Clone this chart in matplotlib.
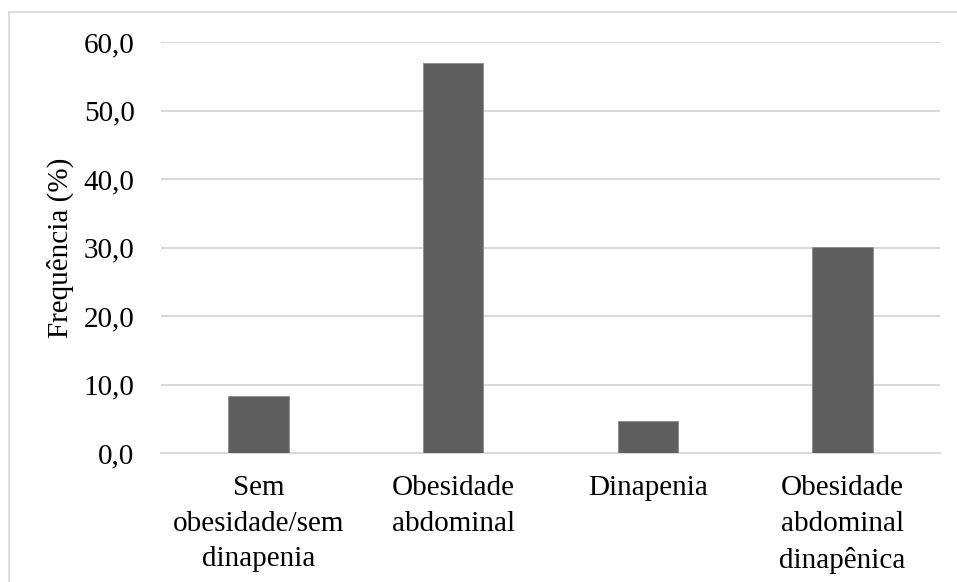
import matplotlib
matplotlib.use("Agg")
import matplotlib.pyplot as plt
from matplotlib.lines import Line2D
from matplotlib.ticker import FuncFormatter

plt.rcParams["font.family"] = ["Liberation Serif", "DejaVu Serif"]

categories = ["Sem\nobesidade/sem\ndinapenia", "Obesidade\nabdominal",
              "Dinapenia", "Obesidade\nabdominal\ndinapênica"]
values = [8.3, 56.9, 4.7, 30.1]
yticks = [0, 10, 20, 30, 40, 50, 60]

W, H = 957, 582
fig = plt.figure(figsize=(W / 100, H / 100), dpi=100)
ax = fig.add_axes([161 / W, 1 - 453 / H, (940 - 161) / W, (453 - 42) / H])

x = range(len(categories))
ax.bar(x, values, width=0.31, color="#5f5f5f", edgecolor="#8c8c8c",
       linewidth=0.6, zorder=3)

ax.set_xlim(-0.5, len(categories) - 0.5)
ax.set_ylim(0, 60)
ax.set_yticks(yticks)
ax.yaxis.set_major_formatter(FuncFormatter(lambda v, p: f"{v:.1f}".replace(".", ",")))
ax.grid(axis="y", color="#d9d9d9", linewidth=1.5, zorder=0)
for s in ["top", "right", "left"]:
    ax.spines[s].set_visible(False)
ax.spines["bottom"].set_color("#d9d9d9")
ax.spines["bottom"].set_linewidth(1.5)

ax.set_xticks(list(x))
ax.set_xticklabels(categories, fontsize=21, linespacing=1.48, va="top")
ax.tick_params(axis="x", length=0, pad=16)
ax.tick_params(axis="y", length=0, pad=19, labelsize=21)
ax.set_ylabel("Frequência (%)", fontsize=21, labelpad=7)

# light outer frame (chart area border)
fig.add_artist(Line2D([9 / W, 1], [1 - 12 / H, 1 - 12 / H], color="#d9d9d9", lw=1.2))
fig.add_artist(Line2D([9 / W, 9 / W], [0, 1 - 12 / H], color="#d9d9d9", lw=1.2))

fig.savefig("out.png", dpi=100)
